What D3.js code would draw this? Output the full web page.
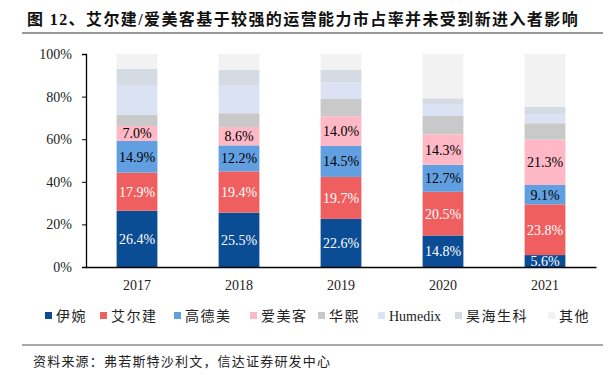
<!DOCTYPE html>
<html>
<head>
<meta charset="utf-8">
<script src="https://cdn.jsdelivr.net/npm/d3@7"></script>
<style>
  body { margin: 0; background: #fff; }
  svg { display: block; }
  text { font-family: "Liberation Serif", "Noto Sans CJK SC", serif; }
</style>
</head>
<body>
<div id="chart"></div>
<script>
var svgWidth = 610;
var svgHeight = 375;

// data
var years = ["2017", "2018", "2019", "2020", "2021"];
var companies = ["伊婉", "艾尔建", "高德美", "爱美客", "华熙", "Humedix", "昊海生科", "其他"];
var yiwan    = [26.4, 25.5, 22.6, 14.8, 5.6];
var allergan = [17.9, 19.4, 19.7, 20.5, 23.8];
var galderma = [14.9, 12.2, 14.5, 12.7, 9.1];
var imeik    = [7.0, 8.6, 14.0, 14.3, 21.3];
var huaxi    = [5.2, 6.5, 8.1, 8.6, 7.7];
var humedix  = [13.7, 13.2, 7.8, 5.6, 4.3];
var haohai   = [7.9, 7.1, 5.8, 2.7, 3.5];
var others   = [7.0, 7.5, 7.5, 20.8, 24.7];
var yTicks = [0, 20, 40, 60, 80, 100];

var series = [yiwan, allergan, galderma, imeik, huaxi, humedix, haohai, others];
var colors = ["#0b4d95", "#ef5f60", "#629fe1", "#ffb9c6", "#c9c9c9", "#dbe2f3", "#d5dbe3", "#f2f2f2"];
var labelColors = ["#fff", "#fff", "#000", "#000"];

var margin = { top: 54, right: 14, bottom: 108, left: 86 };
var width = svgWidth - margin.left - margin.right;
var height = svgHeight - margin.top - margin.bottom;

var svg = d3.select("#chart")
  .append("svg")
  .attr("width", svgWidth)
  .attr("height", svgHeight);

// title
svg.append("text")
  .attr("x", 27)
  .attr("y", 25)
  .attr("font-size", "16px")
  .attr("font-weight", "bold")
  .attr("letter-spacing", "1.4px")
  .attr("fill", "#111")
  .text("图 12、艾尔建/爱美客基于较强的运营能力市占率并未受到新进入者影响");

svg.append("line")
  .attr("x1", 22).attr("x2", 603)
  .attr("y1", 33).attr("y2", 33)
  .attr("stroke", "#333").attr("stroke-width", 1.2);

var table = years.map(function(y, i) {
  var row = { year: y };
  companies.forEach(function(c, j) { row[c] = series[j][i]; });
  return row;
});

var stacked = d3.stack().keys(companies)(table);

var x = d3.scaleBand()
  .domain(years)
  .range([0, width])
  .paddingInner(0.6)
  .paddingOuter(0.3);

var y = d3.scaleLinear()
  .domain([0, 100])
  .range([height, 0]);

var chartGroup = svg.append("g")
  .attr("transform", `translate(${margin.left}, ${margin.top})`);

var layers = chartGroup.selectAll(".layer")
  .data(stacked)
  .enter()
  .append("g")
  .attr("fill", (d, i) => colors[i]);

layers.selectAll("rect")
  .data(d => d)
  .enter()
  .append("rect")
  .attr("x", d => x(d.data.year))
  .attr("y", d => y(d[1]))
  .attr("width", x.bandwidth())
  .attr("height", d => y(d[0]) - y(d[1]));

// value labels for the first four companies
stacked.slice(0, 4).forEach(function(layer, i) {
  chartGroup.selectAll(".lbl" + i)
    .data(layer)
    .enter()
    .append("text")
    .attr("x", d => x(d.data.year) + x.bandwidth() / 2)
    .attr("y", d => (y(d[0]) + y(d[1])) / 2)
    .attr("dy", "0.36em")
    .attr("text-anchor", "middle")
    .attr("font-size", "14px")
    .attr("fill", labelColors[i])
    .text(d => (d[1] - d[0]).toFixed(1) + "%");
});

// axes
var leftAxis = d3.axisLeft(y).tickValues(yTicks).tickFormat(d => d + "%").tickSize(4);
var bottomAxis = d3.axisBottom(x).tickSize(0).tickPadding(13);

var yAxis = chartGroup.append("g").call(leftAxis);
yAxis.select(".domain").attr("stroke", "#000").attr("stroke-width", 1.3);
yAxis.selectAll(".tick line").attr("stroke", "#000");
yAxis.selectAll(".tick text")
  .attr("font-size", "14px")
  .attr("font-family", "Liberation Serif")
  .attr("fill", "#222")
  .attr("x", -14);

var xAxis = chartGroup.append("g")
  .attr("transform", `translate(0, ${height})`)
  .call(bottomAxis);
xAxis.select(".domain").attr("stroke", "#000").attr("stroke-width", 1.3);
xAxis.selectAll(".tick text")
  .attr("font-size", "14px")
  .attr("font-family", "Liberation Serif")
  .attr("fill", "#222");

// legend
var legendX = [45, 100, 174, 250, 318, 378, 455, 548];
var legend = svg.append("g").attr("transform", "translate(0, 316)");
companies.forEach(function(c, i) {
  legend.append("rect")
    .attr("x", legendX[i])
    .attr("y", -4)
    .attr("width", 7)
    .attr("height", 7)
    .attr("fill", colors[i]);
  legend.append("text")
    .attr("x", legendX[i] + 11)
    .attr("y", 0)
    .attr("dy", "0.35em")
    .attr("font-size", "14px")
    .attr("letter-spacing", c === "Humedix" ? "0px" : "1.5px")
    .attr("fill", "#222")
    .text(c);
});

// source
svg.append("line")
  .attr("x1", 22).attr("x2", 603)
  .attr("y1", 345).attr("y2", 345)
  .attr("stroke", "#555").attr("stroke-width", 1);

svg.append("text")
  .attr("x", 33)
  .attr("y", 366)
  .attr("font-size", "13px")
  .attr("letter-spacing", "1.2px")
  .attr("fill", "#222")
  .text("资料来源：弗若斯特沙利文，信达证券研发中心");
</script>
</body>
</html>
